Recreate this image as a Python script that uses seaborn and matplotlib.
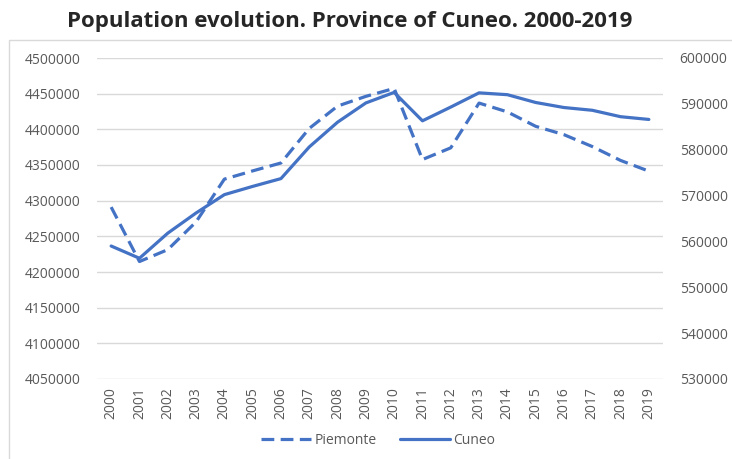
import pandas as pd
import matplotlib.pyplot as plt
import matplotlib.patches as mpatches
import matplotlib.ticker as mticker
import seaborn as sns

# Population data
years = list(range(2000, 2020))
piemonte = [4291000, 4214677, 4231334, 4270215, 4330172, 4341733, 4352828, 4401266,
            4432571, 4446230, 4457335, 4357663, 4374052, 4436798, 4424467, 4404246,
            4392526, 4375865, 4356406, 4341375]
cuneo = [559000, 556330, 561800, 566200, 570200, 572000, 573700, 580600,
         586000, 590200, 592500, 586300, 589300, 592400, 592000, 590300,
         589200, 588600, 587200, 586600]

df = pd.DataFrame({'year': years, 'Piemonte': piemonte, 'Cuneo': cuneo})
df['pos'] = range(len(df))

sns.set_style('white')
plt.rcParams['font.family'] = ['Open Sans', 'DejaVu Sans']

blue = '#4472C4'
grey = '#595959'

fig = plt.figure(figsize=(7.32, 4.59), dpi=100)
ax = fig.add_axes([97 / 732, 80 / 459, 566 / 732, 321 / 459])
ax2 = ax.twinx()

sns.lineplot(data=df, x='pos', y='Piemonte', ax=ax, color=blue, linewidth=2.3,
             label='Piemonte', legend=False)
ax.lines[0].set_dashes((4, 2))
sns.lineplot(data=df, x='pos', y='Cuneo', ax=ax2, color=blue, linewidth=2.3,
             label='Cuneo', legend=False)

ax.set_ylim(4050000, 4500000)
ax.set_yticks(range(4050000, 4500001, 50000))
ax2.set_ylim(530000, 600000)
ax2.set_yticks(range(530000, 600001, 10000))
ax.yaxis.set_major_formatter(mticker.StrMethodFormatter('{x:.0f}'))
ax2.yaxis.set_major_formatter(mticker.StrMethodFormatter('{x:.0f}'))
ax.set_xlim(-0.5, len(years) - 0.5)
ax.set_xticks(df['pos'])
ax.set_xticklabels(years, rotation=90)

ax.grid(axis='y', color='#d9d9d9', linewidth=1)
ax.set_axisbelow(True)
for a in (ax, ax2):
    a.set_xlabel('')
    a.set_ylabel('')
    for s in a.spines.values():
        s.set_visible(False)
    a.tick_params(length=0, labelsize=10, colors=grey, pad=12)
ax.tick_params(axis='x', pad=6)

fig.suptitle('Population evolution. Province of Cuneo. 2000-2019', x=350 / 732, y=1 - 21 / 459,
             va='center', fontsize=16, fontweight='bold')

h1, l1 = ax.get_legend_handles_labels()
h2, l2 = ax2.get_legend_handles_labels()
fig.legend(h1 + h2, l1 + l2, loc='center', bbox_to_anchor=(378 / 732, 1 - 440 / 459), ncol=2,
           frameon=False, fontsize=10, labelcolor=grey, handlelength=3.6, handletextpad=0.2,
           columnspacing=1.7)

# light frame around the chart area
fig.patches.append(mpatches.Rectangle((9 / 732, -0.1), 1.1, 1 - 40 / 459 + 0.1, transform=fig.transFigure,
                                      fill=False, edgecolor='#d9d9d9', linewidth=1))

fig.savefig('out.png', dpi=100)
